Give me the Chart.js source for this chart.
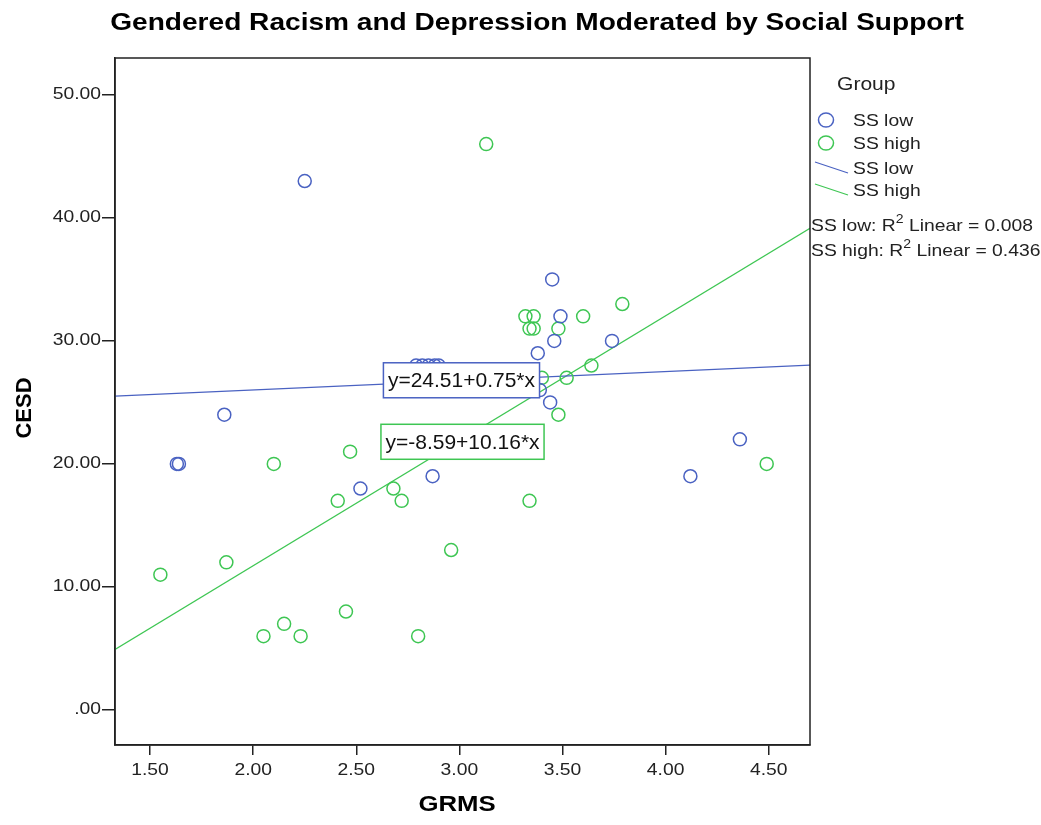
<!DOCTYPE html>
<html>
<head>
<meta charset="utf-8">
<script src="https://cdn.jsdelivr.net/npm/chart.js@4.4.1/dist/chart.umd.min.js"></script>
<style>
  html, body { margin: 0; padding: 0; background: #fff; }
  #wrap { width: 1041px; height: 825px; }
</style>
</head>
<body>
<div id="wrap"><canvas id="plot"></canvas></div>
<script>
// values
const lowX  = [2.25, 1.86, 1.63, 1.64, 2.52, 2.87, 2.79, 2.82, 2.85, 2.88, 2.90, 3.46, 3.38, 3.45, 3.49, 3.74, 3.44, 3.39, 4.36, 4.12];
const lowY  = [43, 24, 20, 20, 18, 19, 28, 28, 28, 28, 28, 30, 29, 35, 32, 30, 25, 26, 22, 19];
const highX = [3.13, 3.79, 3.60, 3.32, 3.36, 3.34, 3.36, 3.48, 3.52, 3.64, 3.40, 3.48, 3.34, 4.49, 2.10, 2.47, 2.41, 2.68, 2.72, 2.96, 1.55, 1.87, 2.45, 2.15, 2.05, 2.23, 2.80];
const highY = [46, 33, 32, 32, 32, 31, 31, 31, 27, 28, 27, 24, 17, 20, 20, 21, 17, 18, 17, 13, 11, 12, 8, 7, 6, 6, 6];

// fit lines: intercept, slope, R^2
const lowFit  = { a: 24.51, b: 0.75, r2: '0.008' };
const highFit = { a: -8.59, b: 10.16, r2: '0.436' };

const xTicks = [1.5, 2.0, 2.5, 3.0, 3.5, 4.0, 4.5];
const yTicks = [0, 10, 20, 30, 40, 50];
const xMin = 1.33, xMax = 4.70;
const yMin = -2.85, yMax = 53.0;

const blue = '#4a62c2';
const green = '#3ec653';
const FONT = '"Liberation Sans", Arial, sans-serif';
const STRETCH = 1.17; // the SPSS export is a bit wider than it is tall

Chart.defaults.font.family = FONT;

function pts(xs, ys) {
    return xs.map((x, i) => ({ x: x, y: ys[i] }));
}

function fitLine(f) {
    return [{ x: xMin, y: f.a + f.b * xMin }, { x: xMax, y: f.a + f.b * xMax }];
}

function eqText(f) {
    return 'y=' + f.a.toFixed(2) + '+' + f.b.toFixed(2) + '*x';
}

// draw text squeezed/stretched horizontally, returns drawn width
function wideText(ctx, text, x, y, align, sx) {
    const w = ctx.measureText(text).width * sx;
    let left = x;
    if (align === 'center') left = x - w / 2;
    if (align === 'right') left = x - w;
    ctx.save();
    ctx.translate(left, y);
    ctx.scale(sx, 1);
    ctx.textAlign = 'left';
    ctx.fillText(text, 0, 0);
    ctx.restore();
    return w;
}

const extras = {
    id: 'extras',
    afterDraw(chart) {
        const ctx = chart.ctx;
        const area = chart.chartArea;
        const sx = chart.scales.x, sy = chart.scales.y;
        ctx.save();
        ctx.textBaseline = 'middle';

        // frame
        ctx.strokeStyle = '#222';
        ctx.lineWidth = 1.5;
        ctx.strokeRect(area.left, area.top, area.right - area.left, area.bottom - area.top);

        // tick labels
        ctx.fillStyle = '#222';
        ctx.font = '16.5px ' + FONT;
        xTicks.forEach(v => wideText(ctx, v.toFixed(2), sx.getPixelForValue(v), 770, 'center', STRETCH));
        yTicks.forEach(v => wideText(ctx, v === 0 ? '.00' : v.toFixed(2), 101, sy.getPixelForValue(v), 'right', STRETCH));

        // axis titles
        ctx.fillStyle = '#000';
        ctx.font = 'bold 22px ' + FONT;
        wideText(ctx, 'GRMS', 457, 805, 'center', STRETCH);
        ctx.save();
        ctx.translate(25, 408);
        ctx.rotate(-Math.PI / 2);
        ctx.textAlign = 'center';
        ctx.fillText('CESD', 0, 0);
        ctx.restore();

        // title
        ctx.font = 'bold 24px ' + FONT;
        wideText(ctx, 'Gendered Racism and Depression Moderated by Social Support', 537, 23, 'center', STRETCH);

        // equation boxes
        ctx.font = '21px ' + FONT;
        [[lowFit, blue, 3.01, 26.8], [highFit, green, 3.015, 21.8]].forEach(([f, col, bx, by]) => {
            const cx = sx.getPixelForValue(bx), cy = sy.getPixelForValue(by);
            const t = eqText(f);
            const w = ctx.measureText(t).width + 9, h = 35;
            ctx.fillStyle = '#fff';
            ctx.fillRect(cx - w / 2, cy - h / 2, w, h);
            ctx.strokeStyle = col;
            ctx.lineWidth = 1.5;
            ctx.strokeRect(cx - w / 2, cy - h / 2, w, h);
            ctx.fillStyle = '#111';
            wideText(ctx, t, cx, cy + 1, 'center', 1);
        });

        // legend
        ctx.fillStyle = '#222';
        ctx.font = '18px ' + FONT;
        wideText(ctx, 'Group', 837, 85, 'left', STRETCH);
        ctx.font = '16.5px ' + FONT;
        [[blue, 'SS low', 120], [green, 'SS high', 143]].forEach(([col, lab, y]) => {
            ctx.beginPath();
            ctx.ellipse(826, y, 7.5, 7, 0, 0, Math.PI * 2);
            ctx.strokeStyle = col;
            ctx.lineWidth = 1.5;
            ctx.stroke();
            ctx.fillStyle = '#222';
            wideText(ctx, lab, 853, y + 1, 'left', STRETCH);
        });
        [[blue, 'SS low', 168], [green, 'SS high', 190]].forEach(([col, lab, y]) => {
            ctx.beginPath();
            ctx.moveTo(815, y - 6);
            ctx.lineTo(848, y + 5);
            ctx.strokeStyle = col;
            ctx.lineWidth = 1.2;
            ctx.stroke();
            ctx.fillStyle = '#222';
            wideText(ctx, lab, 853, y + 1, 'left', STRETCH);
        });

        // R squared notes
        [['SS low: R', lowFit.r2, 226], ['SS high: R', highFit.r2, 251]].forEach(([pre, val, y]) => {
            let x = 811;
            ctx.font = '16.5px ' + FONT;
            x += wideText(ctx, pre, x, y, 'left', STRETCH);
            ctx.font = '12px ' + FONT;
            x += wideText(ctx, '2', x, y - 6, 'left', STRETCH);
            ctx.font = '16.5px ' + FONT;
            wideText(ctx, ' Linear = ' + val, x, y, 'left', STRETCH);
        });

        ctx.restore();
    }
};

new Chart(document.getElementById('plot'), {
    type: 'scatter',
    data: {
        datasets: [
            {
                label: 'SS low',
                data: pts(lowX, lowY),
                pointStyle: 'circle',
                pointRadius: 6.5,
                pointBorderWidth: 1.5,
                borderColor: blue,
                backgroundColor: 'rgba(0,0,0,0)'
            },
            {
                label: 'SS high',
                data: pts(highX, highY),
                pointStyle: 'circle',
                pointRadius: 6.5,
                pointBorderWidth: 1.5,
                borderColor: green,
                backgroundColor: 'rgba(0,0,0,0)'
            },
            {
                type: 'line',
                label: 'SS low fit',
                data: fitLine(lowFit),
                borderColor: blue,
                borderWidth: 1.3,
                pointRadius: 0,
                fill: false
            },
            {
                type: 'line',
                label: 'SS high fit',
                data: fitLine(highFit),
                borderColor: green,
                borderWidth: 1.3,
                pointRadius: 0,
                fill: false
            }
        ]
    },
    options: {
        responsive: true,
        maintainAspectRatio: false,
        animation: false,
        layout: { padding: { top: 58, right: 231, left: 0, bottom: 0 } },
        plugins: {
            legend: { display: false },
            tooltip: { enabled: false }
        },
        scales: {
            x: {
                type: 'linear',
                min: xMin,
                max: xMax,
                afterFit: s => { s.height = 80; },
                afterBuildTicks: s => { s.ticks = xTicks.map(v => ({ value: v })); },
                ticks: { display: false },
                grid: { drawOnChartArea: false, tickLength: 10, color: '#222', lineWidth: 1.5 },
                border: { color: '#222', width: 1.5 }
            },
            y: {
                type: 'linear',
                min: yMin,
                max: yMax,
                afterFit: s => { s.width = 115; },
                afterBuildTicks: s => { s.ticks = yTicks.map(v => ({ value: v })); },
                ticks: { display: false },
                grid: { drawOnChartArea: false, tickLength: 13, color: '#222', lineWidth: 1.5 },
                border: { color: '#222', width: 1.5 }
            }
        }
    },
    plugins: [extras]
});
</script>
</body>
</html>
